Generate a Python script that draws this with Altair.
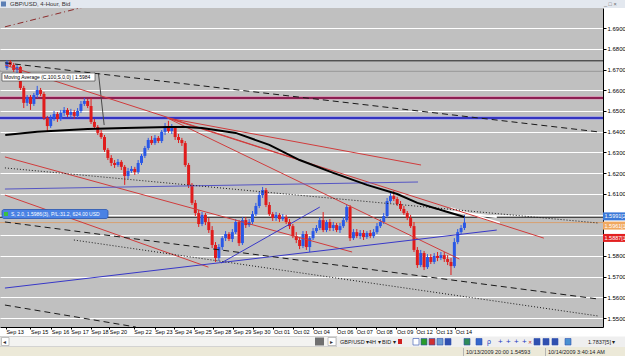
import altair as alt
import pandas as pd

FONT = "Liberation Sans"

# ---------------- data ----------------
FIRST_OPEN = 1.6708
CLOSE = [1.6737, 1.6722, 1.6698, 1.6712, 1.6611, 1.6539, 1.6567, 1.6534, 1.6577, 1.6601,
         1.6582, 1.6466, 1.6427, 1.6466, 1.6485, 1.6461, 1.6490, 1.6505, 1.6481, 1.6495,
         1.6476, 1.6500, 1.6534, 1.6548, 1.6524, 1.6447, 1.6423, 1.6394, 1.6374, 1.6312,
         1.6273, 1.6249, 1.6239, 1.6254, 1.6230, 1.6186, 1.6210, 1.6220, 1.6205, 1.6249,
         1.6283, 1.6321, 1.6360, 1.6345, 1.6370, 1.6355, 1.6399, 1.6427, 1.6403, 1.6418,
         1.6374, 1.6360, 1.6345, 1.6239, 1.6143, 1.6056, 1.6007, 1.5954, 1.5998, 1.5964,
         1.5925, 1.5853, 1.5790, 1.5843, 1.5886, 1.5906, 1.5882, 1.5915, 1.5964, 1.5862,
         1.5973, 1.5949, 1.5964, 1.6002, 1.6041, 1.6094, 1.6118, 1.6046, 1.6002, 1.5983,
         1.5998, 1.5978, 1.5988, 1.5964, 1.5944, 1.5896, 1.5877, 1.5848, 1.5906, 1.5843,
         1.5886, 1.5920, 1.5935, 1.5973, 1.5925, 1.5964, 1.5935, 1.5949, 1.5925, 1.5944,
         1.5973, 1.6036, 1.5886, 1.5915, 1.5896, 1.5911, 1.5891, 1.5911, 1.5896, 1.5915,
         1.5944, 1.5964, 1.5993, 1.6065, 1.6089, 1.6075, 1.6051, 1.6027, 1.6007, 1.5983,
         1.5944, 1.5829, 1.5756, 1.5814, 1.5746, 1.5795, 1.5771, 1.5800, 1.5790, 1.5804,
         1.5785, 1.5771, 1.5751, 1.5867, 1.5915, 1.5935, 1.5961]
HIGH = [1.6746, 1.6746, 1.6732, 1.6727, 1.6717, 1.6621, 1.6577, 1.6577, 1.6587, 1.6621,
        1.6611, 1.6592, 1.6476, 1.6481, 1.6500, 1.6495, 1.6505, 1.6519, 1.6514, 1.6510,
        1.6505, 1.6514, 1.6548, 1.6563, 1.6558, 1.6563, 1.6461, 1.6432, 1.6408, 1.6384,
        1.6321, 1.6287, 1.6263, 1.6268, 1.6263, 1.6239, 1.6225, 1.6234, 1.6230, 1.6263,
        1.6292, 1.6331, 1.6370, 1.6379, 1.6384, 1.6379, 1.6408, 1.6442, 1.6452, 1.6437,
        1.6427, 1.6389, 1.6370, 1.6355, 1.6249, 1.6152, 1.6070, 1.6022, 1.6012, 1.6007,
        1.5983, 1.5944, 1.5867, 1.5857, 1.5896, 1.5920, 1.5915, 1.5930, 1.5978, 1.5973,
        1.5988, 1.5988, 1.5978, 1.6017, 1.6056, 1.6109, 1.6133, 1.6128, 1.6060, 1.6012,
        1.6012, 1.6007, 1.6002, 1.5998, 1.5978, 1.5954, 1.5915, 1.5891, 1.5920, 1.5920,
        1.5896, 1.5935, 1.5949, 1.5988, 1.6012, 1.5973, 1.5978, 1.5964, 1.5959, 1.5959,
        1.5988, 1.6046, 1.6046, 1.5930, 1.5930, 1.5925, 1.5925, 1.5920, 1.5925, 1.5930,
        1.5959, 1.5978, 1.6007, 1.6080, 1.6109, 1.6114, 1.6085, 1.6065, 1.6041, 1.6017,
        1.5998, 1.5964, 1.5843, 1.5829, 1.5824, 1.5809, 1.5809, 1.5814, 1.5819, 1.5819,
        1.5819, 1.5804, 1.5790, 1.5886, 1.5930, 1.5949, 1.5998]
LOW = [1.6698, 1.6712, 1.6688, 1.6683, 1.6601, 1.6514, 1.6524, 1.6505, 1.6524, 1.6563,
       1.6572, 1.6456, 1.6399, 1.6418, 1.6452, 1.6447, 1.6452, 1.6476, 1.6471, 1.6466,
       1.6461, 1.6466, 1.6490, 1.6524, 1.6514, 1.6437, 1.6413, 1.6384, 1.6365, 1.6302,
       1.6263, 1.6234, 1.6225, 1.6230, 1.6215, 1.6143, 1.6172, 1.6201, 1.6191, 1.6196,
       1.6239, 1.6273, 1.6312, 1.6336, 1.6336, 1.6345, 1.6345, 1.6384, 1.6394, 1.6389,
       1.6360, 1.6345, 1.6331, 1.6230, 1.6128, 1.6046, 1.5993, 1.5940, 1.5944, 1.5949,
       1.5911, 1.5838, 1.5771, 1.5775, 1.5829, 1.5872, 1.5872, 1.5867, 1.5906, 1.5848,
       1.5853, 1.5935, 1.5940, 1.5954, 1.5993, 1.6031, 1.6080, 1.6036, 1.5993, 1.5969,
       1.5969, 1.5964, 1.5969, 1.5954, 1.5930, 1.5886, 1.5862, 1.5833, 1.5838, 1.5829,
       1.5819, 1.5877, 1.5911, 1.5925, 1.5915, 1.5915, 1.5920, 1.5920, 1.5915, 1.5911,
       1.5935, 1.5964, 1.5872, 1.5877, 1.5886, 1.5882, 1.5877, 1.5882, 1.5886, 1.5886,
       1.5906, 1.5935, 1.5954, 1.5983, 1.6056, 1.6065, 1.6041, 1.6017, 1.5998, 1.5973,
       1.5935, 1.5819, 1.5742, 1.5746, 1.5732, 1.5737, 1.5761, 1.5761, 1.5775, 1.5780,
       1.5771, 1.5756, 1.5708, 1.5742, 1.5857, 1.5906, 1.5925]

DAY_TICKS = [-0.3, 7.0, 13.2, 19.0, 24.9, 30.4, 37.7, 43.9, 49.7, 55.6, 61.4, 67.3, 73.0,
             79.2, 85.0, 91.0, 98.0, 103.8, 109.7, 115.8, 121.6, 127.5, 133.3]
DAY_LABELS = ["Sep 13", "Sep 15", "Sep 16", "Sep 17", "Sep 18", "Sep 20", "Sep 22", "Sep 23",
              "Sep 24", "Sep 25", "Sep 28", "Sep 29", "Sep 30", "Oct 01", "Oct 02", "Oct 04",
              "Oct 06", "Oct 07", "Oct 08", "Oct 09", "Oct 12", "Oct 13", "Oct 14"]

PRICE_TICKS = [1.55, 1.56, 1.57, 1.58, 1.59, 1.60, 1.61, 1.62, 1.63, 1.64, 1.65, 1.66, 1.67, 1.68, 1.69]
HIDDEN_PRICE_LABELS = [1.59, 1.60]   # covered by the price tags in the picture

# 100-period moving average
MA_I = [-0.5, 9, 24, 35, 48, 53, 58, 68, 78, 87, 97, 107, 116, 122, 129, 136]
MA_P = [1.6384, 1.6399, 1.6413, 1.6418, 1.6423, 1.6423, 1.6418, 1.6394, 1.6336, 1.6263,
        1.6201, 1.6143, 1.6099, 1.6056, 1.6022, 1.5988]

# drawn trend lines
LINE_ID = ["dash_top", "dashdot_red", "ma_link", "white1", "white2", "dot1", "dash2", "dot2",
           "dash3", "r1", "r2", "r3", "r4", "r5", "r6", "b1", "b2", "b3"]
LINE_I1 = [-0.6, -0.6, 27.2, 128.1, 131.9, -0.6, -0.6, 19.9, -0.6, 47.7, 47.7, 47.7, -0.6, -0.6, -0.6, -0.6, 63.7, -0.6]
LINE_P1 = [1.6732, 1.6906, 1.6683, 1.6022, 1.6031, 1.6225, 1.5964, 1.5877, 1.5563, 1.6466, 1.6466,
           1.6466, 1.6278, 1.6094, 1.6722, 1.5645, 1.5766, 1.6123]
LINE_I2 = [175.8, 30.0, 28.9, 145.6, 146.5, 175.8, 175.8, 175.8, 38.3, 123.1, 159.6, 134.5, 102.6, 59.9, 87.1, 145.6, 93.0, 122.2]
LINE_P2 = [1.6399, 1.7031, 1.6432, 1.5988, 1.5959, 1.5959, 1.5592, 1.5510, 1.5457, 1.6239, 1.5886,
           1.5785, 1.5819, 1.5746, 1.6263, 1.5925, 1.6036, 1.6157]
LINE_COLOR = ["#1a1a1a", "#8b2a2a", "#4a4a4a", "#ffffff", "#ffffff", "#1a1a1a", "#1a1a1a", "#1a1a1a",
              "#1a1a1a", "#d03c3c", "#d03c3c", "#d03c3c", "#d03c3c", "#d03c3c", "#d03c3c",
              "#3838c8", "#3838c8", "#5656c4"]
LINE_STYLE = ["dashed", "dashdot", "solid", "solid", "solid", "dotted", "dashed", "dotted",
              "dashed", "solid", "solid", "solid", "solid", "solid", "solid", "solid", "solid", "solid"]
LINE_WIDTH = [1, 1, 1, 2, 2, 1, 1, 1, 1, 1, 1, 1, 1, 1, 1, 1, 1, 1]

# horizontal lines
HL_P = [1.6742, 1.6693, 1.6563, 1.6466, 1.5986, 1.5961]
HL_COLOR = ["#202020", "#7a7a7a", "#8c1f52", "#3434c0", "#3a3a3a", "#d8a070"]
HL_W = [1, 1, 2, 2, 1, 1]
HL_GLOW = ["none", "none", "#d890b0", "#9c9ce6", "none", "none"]

# price tags on the right axis
TAG_P = [1.5991, 1.5961, 1.5887]
TAG_TEXT = ["1.5991[2", "1.5961[1", "1.5887[1"]
TAG_FILL = ["#3b78d8", "#f0a860", "#e22020"]
TAG_SHIFT = [0, 3, 0]

# ---------------- geometry ----------------
W, H = 603, 319
TOP = 8
x_scale = alt.Scale(domain=[-0.58, 175.7], nice=False, zero=False)
y_scale = alt.Scale(domain=[1.5457, 1.6997], nice=False, zero=False)

label_expr = " : ".join(f"datum.value == {v} ? '{t}'" for v, t in zip(DAY_TICKS, DAY_LABELS)) + " : ''"
hide_expr = " || ".join(f"abs(datum.value - {v}) < 0.0001" for v in HIDDEN_PRICE_LABELS)
y_label_expr = f"({hide_expr}) ? '' : format(datum.value, '.4f') + '[0'"

x_axis = alt.Axis(values=DAY_TICKS, labelExpr=label_expr, title=None, grid=False, labelAlign="left",
                  labelFontSize=5.5, labelFont=FONT, labelColor="#000000", labelPadding=0, tickSize=2,
                  tickColor="#000000", domainColor="#000000", labelFlush=False, labelOverlap=False)
y_axis = alt.Axis(orient="right", values=PRICE_TICKS, labelExpr=y_label_expr,
                  title=None, grid=True, gridColor="#ffffff", gridOpacity=1, gridWidth=1, tickSize=3,
                  tickColor="#000000", domainColor="#000000", labelFontSize=6, labelFont=FONT,
                  labelColor="#000000", labelPadding=1, labelFlush=False, labelOverlap=False)


def X(f):
    return alt.X(f"{f}:Q", scale=x_scale, axis=x_axis)


def Y(f):
    return alt.Y(f"{f}:Q", scale=y_scale, axis=y_axis)


opens = [FIRST_OPEN] + CLOSE[:-1]
candles = pd.DataFrame({
    "i": list(range(len(CLOSE))), "o": opens, "c": CLOSE, "h": HIGH, "l": LOW,
})
candles["col"] = ["#2a58e6" if c >= o else "#e01c1c" for o, c in zip(opens, CLOSE)]

rows = []
for k in range(len(LINE_ID)):
    for ii, pp in ((LINE_I1[k], LINE_P1[k]), (LINE_I2[k], LINE_P2[k])):
        rows.append({"id": LINE_ID[k], "i": ii, "p": pp, "col": LINE_COLOR[k],
                     "w": LINE_WIDTH[k], "style": LINE_STYLE[k]})
lines = pd.DataFrame(rows)

layers = []

# horizontal lines (under candles), with light edges on the thick ones
hl = pd.DataFrame({"p": HL_P, "col": HL_COLOR, "w": HL_W, "glow": HL_GLOW})
glow = hl[hl["glow"] != "none"]
layers.append(alt.Chart(glow).mark_rule(strokeWidth=3.4).encode(
    y=Y("p"), color=alt.Color("glow:N", scale=None)))
layers.append(alt.Chart(hl).mark_rule().encode(
    y=Y("p"), color=alt.Color("col:N", scale=None), strokeWidth=alt.StrokeWidth("w:Q", scale=None)))

# candles
layers.append(alt.Chart(candles).mark_rule(strokeWidth=1).encode(
    x=X("i"), y=Y("l"), y2="h", color=alt.Color("col:N", scale=None)))
layers.append(alt.Chart(candles).mark_bar(width=3).encode(
    x=X("i"), y=Y("o"), y2="c", color=alt.Color("col:N", scale=None)))

# trend lines
DASHES = {"solid": None, "dashed": [6, 4], "dotted": [1, 2], "dashdot": [6, 3, 1, 3]}
for style, dash in DASHES.items():
    sub = lines[lines["style"] == style]
    if sub.empty:
        continue
    kw = {"clip": True}
    if dash is not None:
        kw["strokeDash"] = dash
    layers.append(alt.Chart(sub).mark_line(**kw).encode(
        x=X("i"), y=Y("p"), detail="id:N", color=alt.Color("col:N", scale=None),
        strokeWidth=alt.StrokeWidth("w:Q", scale=None)))

# moving average
ma = pd.DataFrame({"i": MA_I, "p": MA_P})
layers.append(alt.Chart(ma).mark_line(color="#000000", strokeWidth=2, clip=True).encode(x=X("i"), y=Y("p")))

ONE = alt.Data(values=[{"k": 1}])


def rect(x, x2, y, y2, fill, stroke=None, sw=0.8, r=0):
    kw = {"fill": fill}
    if stroke is not None:
        kw["stroke"] = stroke
        kw["strokeWidth"] = sw
    if r:
        kw["cornerRadius"] = r
    return alt.Chart(ONE).mark_rect(**kw).encode(
        x=alt.value(x), x2=alt.value(x2), y=alt.value(y - TOP), y2=alt.value(y2 - TOP))


def text(x, y, s, size=6, color="#000000", align="left", weight="normal"):
    return alt.Chart(ONE).mark_text(align=align, baseline="middle", font=FONT, fontSize=size,
                                    color=color, fontWeight=weight).encode(
        x=alt.value(x), y=alt.value(y - TOP), text=alt.value(s))


# labels inside the plot
layers.append(rect(2, 95, 73, 81, "#ffffff", "#303030", 0.6))
layers.append(text(4, 77.2, "Moving Average (C,100,S,0,0) | 1.5984", 5))
layers.append(rect(2, 108, 209.5, 218.5, "#4a82e4", "#2a55b0", 0.8, 2))
layers.append(rect(4, 8, 212, 216, "#3cc040"))
layers.append(text(11, 214.2, "S, 2.0, 1.5986(3), P/L:31.2, 624.00 USD", 5, "#ffffff"))

# price tags
for p, t, f, s in zip(TAG_P, TAG_TEXT, TAG_FILL, TAG_SHIFT):
    d = pd.DataFrame({"p": [p], "t": [t]})
    layers.append(alt.Chart(d).mark_rect(fill=f, yOffset=-4 + s, y2Offset=4 + s).encode(
        x=alt.value(W), x2=alt.value(625), y=Y("p"), y2="p"))
    layers.append(alt.Chart(d).mark_text(align="left", baseline="middle", font=FONT, fontSize=5.5,
                                         color="#ffffff", yOffset=s).encode(
        x=alt.value(W + 1.5), y=Y("p"), text="t:N"))

# window chrome
layers.append(rect(0, 625, 0, 8, "#e3e8ef"))
layers.append(rect(1, 6, 1.5, 6.5, "#5b7fb5"))
layers.append(text(10, 4.3, "GBP/USD, 4-Hour, Bid", 6, "#333333"))
layers.append(text(604, 3.5, "_  \u25a1  \u00d7", 5.5, "#666666"))

layers.append(rect(0, 337, 336.5, 346.5, "#f3f3f1", "#b8b8b8", 0.6))
layers.append(rect(1.5, 9, 337.5, 345.5, "#ffffff", "#9a9a9a", 0.6))
layers.append(text(3.2, 341.5, "\u25c2", 6, "#333333"))
layers.append(rect(315, 324, 337.5, 345.5, "#707070"))
layers.append(rect(328, 336, 337.5, 345.5, "#ffffff", "#9a9a9a", 0.6))
layers.append(text(330, 341.5, "\u25b8", 6, "#333333"))
layers.append(rect(337, 625, 336.5, 347, "#efefef"))
layers.append(text(340, 341.7, "GBP/USD \u25be", 5.5, "#222222"))
layers.append(text(369, 341.7, "4H \u25be", 5.5, "#222222"))
layers.append(text(382, 341.7, "BID \u25be", 5.5, "#222222"))
layers.append(rect(398, 402, 339, 344, "#d02020"))
for x0, col in [(413, "#ffffff"), (421, "#2a9a2a"), (429, "#d03030"), (437, "#6b9bd1"), (445, "#3050b0"),
                (464, "#2e8b57"), (476, "#3366cc"), (534, "#3050b0"), (543, "#3050b0"),
                (552, "#3050b0"), (565, "#4a90d0")]:
    layers.append(rect(x0, x0 + 6, 338.5, 345, col, "#3050b0", 0.6))
for x0 in [498, 506, 514, 522]:
    layers.append(text(x0, 341.7, "+", 8, "#2040c0"))
layers.append(text(487, 341.7, "\u03c1", 7, "#2040c0"))
layers.append(text(528, 341.7, "\u2715", 5, "#c03030"))
layers.append(text(588, 341.7, "1.7837[5] \u25be", 5.5, "#222222"))

layers.append(rect(0, 625, 347, 356, "#ece9d8"))
layers.append(rect(463, 463.8, 348, 356, "#a8a8a8"))
layers.append(rect(545, 545.8, 348, 356, "#a8a8a8"))
layers.append(text(466, 351.8, "10/13/2009 20:00  1.54593", 5.5, "#222222"))
layers.append(text(548, 351.8, "10/14/2009 3:40:14 AM", 5.5, "#222222"))

chart = alt.layer(*layers).properties(
    width=W, height=H,
    padding={"left": 0, "top": TOP, "right": 625 - W, "bottom": 356 - TOP - H},
    autosize=alt.AutoSizeParams(type="none"),
    background="#ffffff",
).configure_view(fill="#c0c0c0", strokeWidth=0)

chart.save("out.html", embed_options={"renderer": "svg", "actions": False})
